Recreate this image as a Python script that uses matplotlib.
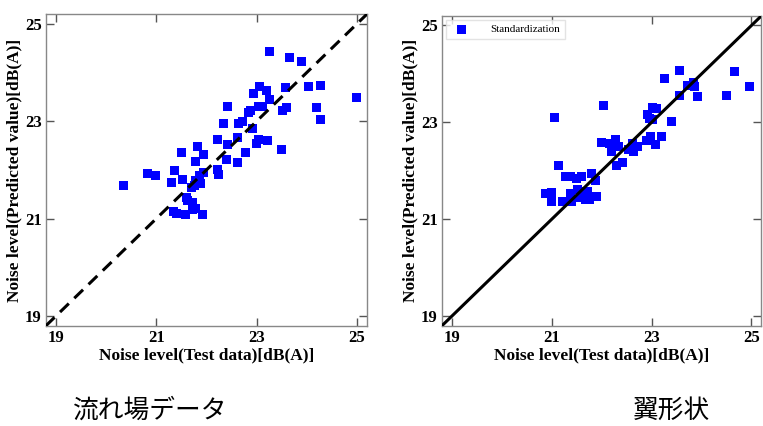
import numpy as np
import matplotlib.pyplot as plt

# 流れ場データ (left panel): test data vs predicted value
flow_test = [20.34, 20.83, 20.99, 21.30, 21.37, 21.50, 21.53, 21.35, 21.41, 21.58,
             21.61, 21.63, 21.73, 21.73, 21.79, 21.93, 21.70, 21.78, 21.79, 21.83,
             21.94, 21.86, 21.89, 21.95, 21.77, 22.22, 22.23, 22.25, 22.35, 22.43,
             22.42, 22.41, 22.61, 22.61, 22.63, 22.71, 22.77, 22.83, 22.87, 22.91,
             22.94, 22.99, 23.03, 23.05, 23.03, 23.11, 23.19, 23.25, 23.22, 23.26,
             23.50, 23.51, 23.58, 23.59, 23.66, 23.90, 24.03, 24.19, 24.27, 24.27,
             24.99]
flow_pred = [21.69, 21.93, 21.88, 21.75, 21.99, 22.35, 21.80, 21.15, 21.10, 21.08,
             21.44, 21.37, 21.34, 21.19, 21.20, 21.08, 21.65, 21.78, 22.17, 22.48,
             22.31, 21.88, 21.73, 21.95, 21.68, 22.63, 22.01, 21.90, 22.96, 23.31,
             22.52, 22.22, 22.16, 22.67, 22.96, 23.00, 22.35, 23.18, 23.22, 22.86,
             23.57, 22.55, 23.30, 23.71, 22.63, 23.30, 23.64, 23.45, 22.61, 24.43,
             22.41, 23.23, 23.69, 23.28, 24.30, 24.23, 23.71, 23.29, 23.74, 23.04,
             23.48]

# 翼形状 (right panel)
wing_test = [20.87, 20.99, 20.99, 21.05, 21.13, 21.21, 21.28, 21.37, 21.37, 21.40,
             21.49, 21.59, 21.52, 21.58, 21.63, 21.68, 21.71, 21.75, 21.80, 21.87,
             21.89, 21.99, 22.03, 22.15, 22.19, 22.28, 22.30, 22.33, 22.41, 22.53,
             22.61, 22.64, 22.72, 22.90, 22.91, 22.95, 22.98, 23.02, 23.02, 23.07,
             23.09, 23.19, 23.25, 23.39, 23.55, 23.56, 23.72, 23.83, 23.85, 23.92,
             24.50, 24.66, 24.96]
wing_pred = [21.54, 21.55, 21.37, 23.11, 22.10, 21.37, 21.88, 21.88, 21.54, 21.37,
             21.85, 21.88, 21.61, 21.44, 21.57, 21.41, 21.57, 21.41, 21.95, 21.81,
             21.47, 22.59, 23.34, 22.57, 22.40, 22.64, 22.12, 22.50, 22.17, 22.45,
             22.57, 22.40, 22.50, 22.63, 23.16, 23.09, 22.71, 23.06, 23.30, 22.54,
             23.28, 22.71, 23.90, 23.02, 23.55, 24.08, 23.76, 23.83, 23.73, 23.54,
             23.55, 24.06, 23.74]

ticks = [19, 21, 23, 25]
lims = (18.8, 25.2)

plt.rcParams['font.family'] = ['Liberation Serif', 'DejaVu Serif']

fig = plt.figure(figsize=(7.63, 4.26), dpi=100)
ax1 = fig.add_axes([0.060, 0.235, 0.421, 0.732])
ax2 = fig.add_axes([0.579, 0.235, 0.419, 0.728])


def style(ax):
    ax.set_xlim(lims)
    ax.set_ylim(lims)
    ax.set_xticks(ticks)
    ax.set_yticks(ticks)
    ax.tick_params(direction='in', length=6, width=1, color='#555555',
                   top=True, right=True, labelsize=12, pad=3)
    for lbl in ax.get_xticklabels() + ax.get_yticklabels():
        lbl.set_fontweight('bold')
    for sp in ax.spines.values():
        sp.set_color('#888888')
        sp.set_linewidth(1)
    ax.set_xlabel('Noise level(Test data)[dB(A)]', fontsize=12.5,
                  fontweight='bold', labelpad=1)
    ax.set_ylabel('Noise level(Predicted value)[dB(A)]', fontsize=12.5,
                  fontweight='bold', labelpad=2)


ax1.plot(lims, lims, color='black', lw=2.2, ls=(0, (4, 2.5)), zorder=3)
ax1.scatter(flow_test, flow_pred, marker='s', s=42, color='#0000ff',
            edgecolors='none', zorder=2)
style(ax1)

ax2.plot(lims, lims, color='black', lw=2.2, zorder=3)
ax2.scatter(wing_test, wing_pred, marker='s', s=42, color='#0000ff',
            edgecolors='none', zorder=2, label='Standardization')
style(ax2)
ax2.legend(loc='upper left', fontsize=8, frameon=True, fancybox=False,
           edgecolor='#dddddd', borderaxespad=0.4, handletextpad=1.6,
           markerscale=1.0)

jp = ['Noto Sans CJK JP', 'DejaVu Sans']
fig.text(150 / 763, 1 - 411 / 426, '流れ場データ', fontsize=18.5, family=jp,
         ha='center', va='center')
fig.text(671 / 763, 1 - 411 / 426, '翼形状', fontsize=18.5, family=jp,
         ha='center', va='center')

fig.savefig('out.png', dpi=100)
